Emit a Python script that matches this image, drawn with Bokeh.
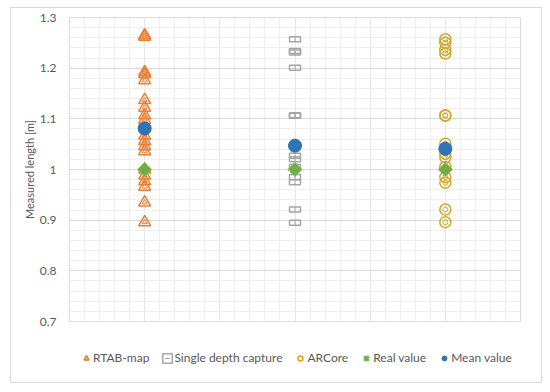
from bokeh.plotting import figure
from bokeh.models import (ColumnDataSource, Range1d, SingleIntervalTicker, FixedTicker,
                          NumeralTickFormatter, Legend, LegendItem)
from bokeh.layouts import column
from bokeh.embed import file_html
from bokeh.resources import INLINE
import math

# ---------------- data ----------------
categories = ["RTAB-map", "Single depth capture", "ARCore"]
rtab_values = [1.265, 1.262, 1.192, 1.188, 1.176, 1.137, 1.122, 1.107, 1.098,
               1.067, 1.056, 1.046, 1.036, 1.0, 0.988, 0.977, 0.966, 0.935, 0.896]
single_values = [1.257, 1.234, 1.231, 1.201, 1.107, 1.106, 1.027, 1.020,
                 1.005, 0.985, 0.975, 0.921, 0.895]
arcore_values = [1.257, 1.250, 1.236, 1.229, 1.107, 1.106, 1.051, 1.031,
                 1.024, 1.005, 0.985, 0.974, 0.921, 0.896]
real_values = [1.0, 1.0, 1.0]
mean_values = [1.081, 1.047, 1.041]
y_ticks = [0.7, 0.8, 0.9, 1.0, 1.1, 1.2, 1.3]

# category positions (1, 2, 3)
cat_pos = {c: i + 1 for i, c in enumerate(categories)}

src_rtab = ColumnDataSource(dict(x=[cat_pos["RTAB-map"]] * len(rtab_values), y=rtab_values))
src_single = ColumnDataSource(dict(x=[cat_pos["Single depth capture"]] * len(single_values), y=single_values))
src_arcore = ColumnDataSource(dict(x=[cat_pos["ARCore"]] * len(arcore_values), y=arcore_values))
src_real = ColumnDataSource(dict(x=[cat_pos[c] for c in categories], y=real_values))
src_mean = ColumnDataSource(dict(x=[cat_pos[c] for c in categories], y=mean_values))

ORANGE = "#ED7D31"
GRAY = "#A5A5A5"
GOLD = "#D6A624"
GREEN = "#70AD47"
BLUE = "#2E75B6"
TEXT = "#595959"
FONT = "Lato"


def draw_series(fig):
    r1a = fig.scatter("x", "y", source=src_rtab, marker="triangle", size=12,
                      line_color=ORANGE, line_width=1.5, fill_color="white", fill_alpha=0.0)
    r1b = fig.scatter("x", "y", source=src_rtab, marker="triangle", size=5,
                      line_color=ORANGE, line_width=1.0, fill_color=None)
    r2a = fig.rect("x", "y", source=src_single, width=11, height=5, width_units="screen",
                   height_units="screen", line_color=GRAY, line_width=1.5, fill_color="white",
                   fill_alpha=0.0)
    r2b = fig.scatter("x", "y", source=src_single, marker="dash", size=4, angle=math.pi / 2,
                      line_color=GRAY, line_width=1.0)
    r3a = fig.scatter("x", "y", source=src_arcore, marker="circle", size=11,
                      line_color=GOLD, line_width=1.5, fill_color="white", fill_alpha=0.0)
    r3b = fig.scatter("x", "y", source=src_arcore, marker="circle", size=5,
                      line_color=GOLD, line_width=1.0, fill_color=None)
    r4 = fig.scatter("x", "y", source=src_real, marker="square", size=10, angle=math.pi / 4,
                     line_color="#8CC168", line_width=1, fill_color=GREEN)
    r5 = fig.scatter("x", "y", source=src_mean, marker="circle", size=13,
                     line_color="#2A6AA8", line_width=1, fill_color=BLUE)
    return [[r1a, r1b], [r2a, r2b], [r3a, r3b], [r4], [r5]]


# ---------------- main plot ----------------
p = figure(width=530, height=322, output_backend="svg", toolbar_location=None,
           x_range=Range1d(0.5, 3.5), y_range=Range1d(0.7, 1.3),
           min_border_left=58, min_border_right=21, min_border_top=9, min_border_bottom=9)
p.outline_line_color = "#D9D9D9"
p.background_fill_color = "white"
p.border_fill_color = "white"

p.xaxis.visible = False
yax = p.yaxis[0]
yax.ticker = FixedTicker(ticks=y_ticks)
yax.formatter = NumeralTickFormatter(format="0.[0]")
yax.axis_line_color = None
yax.major_tick_line_color = None
yax.minor_tick_line_color = None
yax.major_label_text_font = FONT
yax.major_label_text_font_size = "12px"
yax.major_label_text_color = TEXT
yax.major_label_standoff = 7
yax.axis_label = "Measured length [m]"
yax.axis_label_text_font = FONT
yax.axis_label_text_font_size = "11px"
yax.axis_label_text_font_style = "normal"
yax.axis_label_text_color = TEXT
yax.axis_label_standoff = 1

p.ygrid.ticker = SingleIntervalTicker(interval=0.1, num_minor_ticks=5)
p.ygrid.grid_line_color = "#D9D9D9"
p.ygrid.minor_grid_line_color = "#EFEFEF"
p.xgrid.ticker = SingleIntervalTicker(interval=0.5, num_minor_ticks=5)
p.xgrid.grid_line_color = "#E6E6E6"
p.xgrid.minor_grid_line_color = "#EFEFEF"

draw_series(p)

# ---------------- legend strip (same series, range kept off the data) ----------------
pl = figure(width=530, height=52, output_backend="svg", toolbar_location=None,
            x_range=Range1d(100, 101), y_range=Range1d(100, 101),
            min_border_left=0, min_border_right=0, min_border_top=0, min_border_bottom=0)
pl.axis.visible = False
pl.grid.visible = False
pl.outline_line_color = None
pl.background_fill_color = "white"
pl.border_fill_color = "white"
leg_renderers = draw_series(pl)

legend = Legend(items=[LegendItem(label=c, renderers=r) for c, r in
                       zip(categories + ["Real value", "Mean value"], leg_renderers)],
                orientation="horizontal", location=(11, 17))
legend.label_text_font = FONT
legend.label_text_font_size = "12px"
legend.label_text_color = TEXT
legend.glyph_width = 12
legend.glyph_height = 12
legend.label_standoff = 1
legend.spacing = 12
legend.padding = 0
legend.margin = 0
legend.border_line_color = None
legend.background_fill_alpha = 0
pl.add_layout(legend, "center")

layout = column(p, pl, spacing=0, margin=(7, 0, 0, 10),
                styles={"border": "1px solid #D9D9D9", "background": "white"})

open("out.html", "w").write(file_html(layout, INLINE))
